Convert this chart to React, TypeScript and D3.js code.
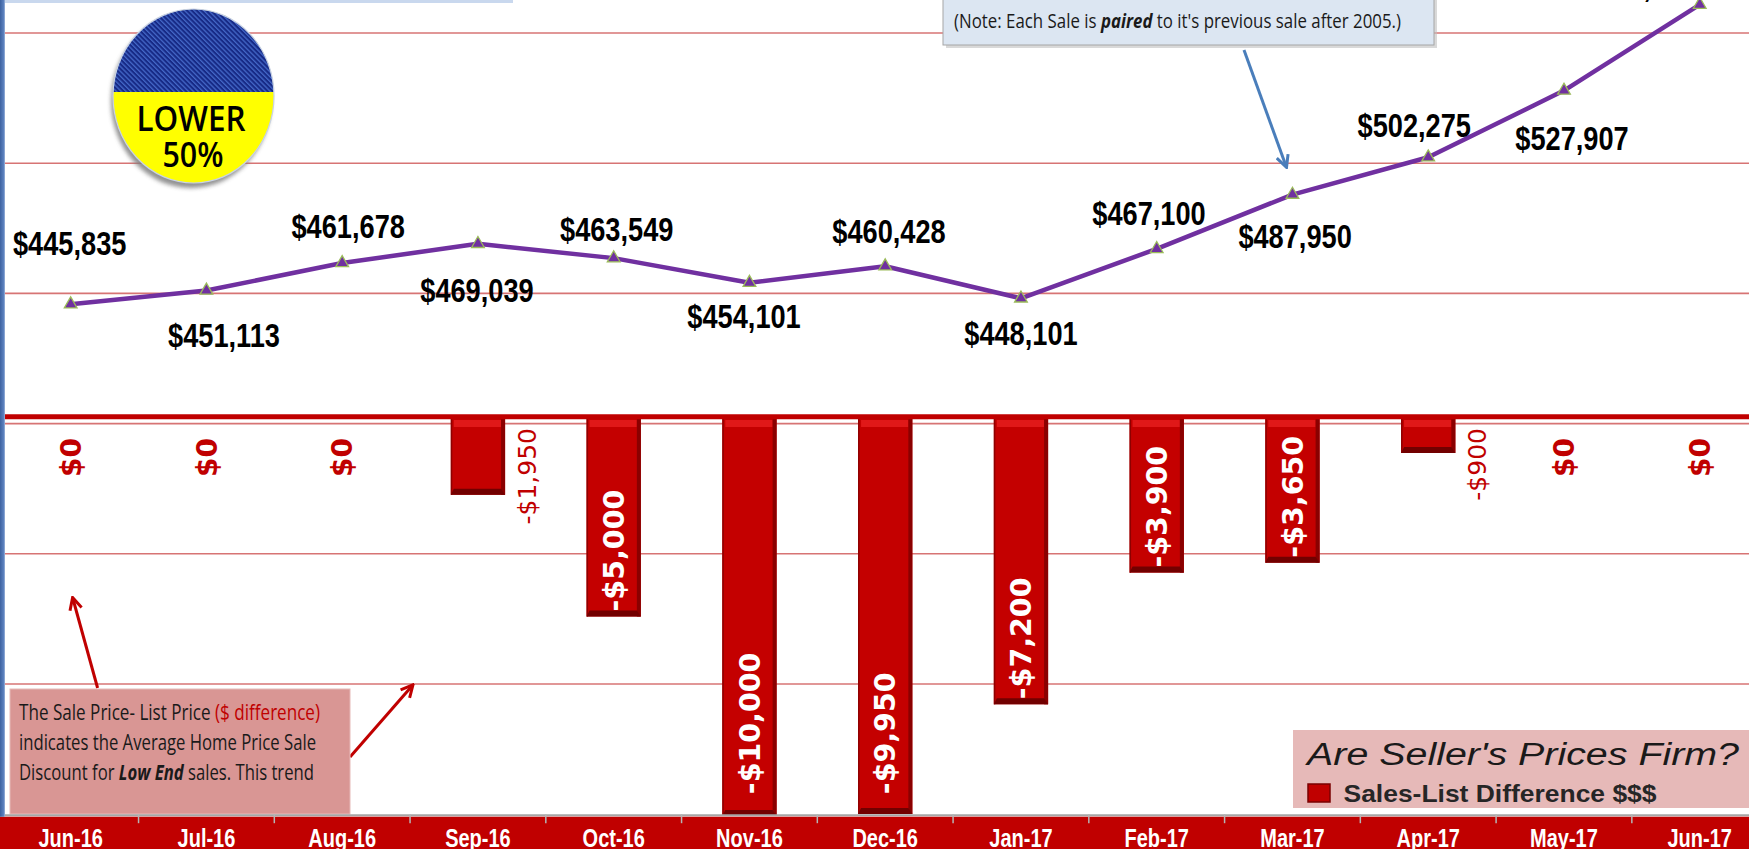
import React from 'react';
import * as d3 from 'd3';

// ---------------- data ----------------
const months = ['Jun-16', 'Jul-16', 'Aug-16', 'Sep-16', 'Oct-16', 'Nov-16', 'Dec-16', 'Jan-17', 'Feb-17', 'Mar-17', 'Apr-17', 'May-17', 'Jun-17'];
const avgSalePrice = [445835, 451113, 461678, 469039, 463549, 454101, 460428, 448101, 467100, 487950, 502275, 527907, 560900];
const salesListDiff = [0, 0, 0, -1950, -5000, -10000, -9950, -7200, -3900, -3650, -900, 0, 0];
const priceTicks = [250000, 300000, 350000, 400000, 450000, 500000, 550000];
const diffDomain = [-10000, 0];
const legendTitle = "Are Seller's Prices Firm?";
const legendLabel = 'Sales-List Difference $$$';

// layout: price label offsets relative to each point [dx, dy(baseline)]
const priceLabelOffsets: [number, number][] = [
  [-1, -49], [17.6, 56], [6, -24.6], [-1, 58], [3, -17.3], [-5.4, 45.4], [3.8, -23.1],
  [0, 46.8], [-7.7, -23.7], [2.6, 53.5], [-14, -20.7], [8, 59.4], [-60, -7.6],
];

const W = 1749;
const H = 849;

const fmtMoney = (v: number) => (v < 0 ? '-' : '') + d3.format('$,')(Math.abs(v));

export default function App() {
  const x = d3.scaleBand<string>().domain(months).range([2.8, 1767.6]).paddingInner(0.6).paddingOuter(0.3);
  const bw = x.bandwidth();
  const cx = (m: string) => (x(m) as number) + bw / 2;
  const yPrice = d3.scaleLinear().domain([250000, 550000]).range([814.2, 33]);
  const yDiff = d3.scaleLinear().domain(diffDomain).range([816, 417]);
  const y0 = yDiff(0);

  const line = d3.line<number>().x((_, i) => cx(months[i])).y((v) => yPrice(v));
  const tri = d3.symbol().type(d3.symbolTriangle).size(70)() as string;

  const axisTop = yPrice(250000);
  const bandTop = axisTop + 2.5;

  return (
    <svg width={W} height={H} style={{ position: 'absolute', left: 0, top: 0, background: '#fff' }}>
      <defs>
        <pattern id="hatch" width="3.4" height="3.4" patternUnits="userSpaceOnUse" patternTransform="rotate(-45)">
          <rect width="3.4" height="3.4" fill="#172a86" />
          <rect width="1.3" height="3.4" fill="#4468c8" />
        </pattern>
        <clipPath id="topHalf">
          <rect x="100" y="0" width="200" height="92" />
        </clipPath>
        <filter id="blur2" x="-20%" y="-20%" width="140%" height="140%">
          <feGaussianBlur stdDeviation="2" />
        </filter>
        <marker id="arrRed" viewBox="0 0 10 10" refX="8" refY="5" markerWidth="5" markerHeight="5" orient="auto">
          <path d="M1,1 L9,5 L1,9" fill="none" stroke="#c00000" strokeWidth="2" />
        </marker>
        <marker id="arrBlue" viewBox="0 0 10 10" refX="8" refY="5" markerWidth="5" markerHeight="5" orient="auto">
          <path d="M1,1 L9,5 L1,9" fill="none" stroke="#4a7ebb" strokeWidth="2" />
        </marker>
        <linearGradient id="leftBorder" x1="0" x2="1" y1="0" y2="0">
          <stop offset="0" stopColor="#3d62a0" />
          <stop offset="0.7" stopColor="#5b80bd" />
          <stop offset="1" stopColor="#9fb6dc" />
        </linearGradient>
      </defs>

      {/* top-left title box remnant */}
      <rect x={0} y={-6} width={513} height={9} fill="#c9d8ee" />

      {/* gridlines */}
      {priceTicks.filter((t) => t > 250000).map((t) => (
        <line key={t} x1={5} x2={W} y1={yPrice(t)} y2={yPrice(t)} stroke="#d77474" strokeWidth={1.6} />
      ))}

      {/* bars */}
      {salesListDiff.map((v, i) => {
        if (v === 0) return null;
        const bx = x(months[i]) as number;
        const by = yDiff(v);
        const h = by - y0;
        return (
          <g key={'bar' + i}>
            <rect x={bx} y={y0} width={bw} height={h} fill="#c40000" />
            <rect x={bx + 3} y={y0 + 3} width={bw - 7} height={Math.min(7, h - 8)} fill="#e01818" />
            <rect x={bx} y={y0} width={1.5} height={h} fill="#8e0000" />
            <rect x={bx + bw - 4} y={y0} width={4} height={h} fill="#8a0000" />
            <polygon points={`${bx},${by} ${bx + bw},${by} ${bx + bw - 4},${by - 6} ${bx + 3},${by - 6}`} fill="#720000" />
          </g>
        );
      })}

      {/* zero line */}
      <line x1={5} x2={W} y1={y0 - 0.3} y2={y0 - 0.3} stroke="#c00000" strokeWidth={5} />

      {/* bar labels */}
      {salesListDiff.map((v, i) => {
        const m = months[i];
        const label = fmtMoney(v);
        if (v === 0) {
          return (
            <text key={'bl' + i} transform={`translate(${cx(m)},${y0 + 60}) rotate(-90)`} dy="0.36em"
              fontFamily="'DejaVu Sans', Verdana, sans-serif" fontWeight="bold" fontSize={28} fill="#c00000">{label}</text>
          );
        }
        if (Math.abs(v) < 2500) {
          return (
            <text key={'bl' + i} transform={`translate(${(x(m) as number) + bw + 22},${y0 + 11}) rotate(-90)`} dy="0.36em"
              textAnchor="end" fontFamily="'DejaVu Sans', Verdana, sans-serif" fontSize={25} fill="#c00000">{label}</text>
          );
        }
        const start = Math.min(yDiff(v) - 5, axisTop - 20);
        return (
          <text key={'bl' + i} transform={`translate(${cx(m)},${start}) rotate(-90)`} dy="0.36em"
            fontFamily="'DejaVu Sans', Verdana, sans-serif" fontWeight="bold" fontSize={28.5} fill="#ffffff">{label}</text>
        );
      })}

      {/* price line */}
      <path d={line(avgSalePrice) as string} fill="none" stroke="#7030a0" strokeWidth={4.5} strokeLinejoin="round" />
      {avgSalePrice.map((v, i) => (
        <path key={'mk' + i} d={tri} transform={`translate(${cx(months[i])},${yPrice(v)})`} fill="#7030a0" stroke="#9bbb59" strokeWidth={1.3} />
      ))}
      {avgSalePrice.map((v, i) => {
        const [dx, dy] = priceLabelOffsets[i];
        return (
          <text key={'pl' + i} transform={`translate(${cx(months[i]) + dx},${yPrice(v) + dy}) scale(0.8,1)`}
            textAnchor="middle" fontFamily="'Liberation Sans', Arial, sans-serif" fontWeight="bold" fontSize={34} fill="#000">
            {fmtMoney(v)}
          </text>
        );
      })}

      {/* LOWER 50% badge */}
      <ellipse cx={191} cy={101} rx={80} ry={87} fill="#7f7f7f" filter="url(#blur2)" opacity={0.85} />
      <ellipse cx={193.5} cy={96} rx={80.5} ry={87} fill="#ffff00" />
      <ellipse cx={193.5} cy={96} rx={80.5} ry={87} fill="url(#hatch)" clipPath="url(#topHalf)" />
      <ellipse cx={193.5} cy={96} rx={80.5} ry={87} fill="none" stroke="#c8d2e6" strokeWidth={1.2} />
      <text x={191} y={130.5} textAnchor="middle" fontFamily="'Open Sans', sans-serif" fontWeight={600} fontSize={35}
        textLength={109} lengthAdjust="spacingAndGlyphs" fill="#000">LOWER</text>
      <text x={193} y={166.5} textAnchor="middle" fontFamily="'Open Sans', sans-serif" fontWeight={600} fontSize={35}
        textLength={61} lengthAdjust="spacingAndGlyphs" fill="#000">50%</text>

      {/* note box top */}
      <rect x={946} y={-4} width={491} height={52} fill="#bfbfbf" opacity={0.6} />
      <rect x={943} y={-6} width={491} height={51} fill="#dce6f2" stroke="#a6a6a6" strokeWidth={1} />
      <text x={954} y={28} fontFamily="'Open Sans', sans-serif" fontSize={20} fill="#1a1a1a" textLength={447} lengthAdjust="spacingAndGlyphs">
        (Note: Each Sale is <tspan fontWeight="bold" fontStyle="italic">paired</tspan> to it's previous sale after 2005.)
      </text>
      <line x1={1244} y1={50} x2={1286} y2={166} stroke="#4a7ebb" strokeWidth={3} markerEnd="url(#arrBlue)" />

      {/* bottom-left annotation */}
      <line x1={97.6} y1={688} x2={73} y2={599} stroke="#c00000" strokeWidth={3} markerEnd="url(#arrRed)" />
      <line x1={350} y1={757} x2={412} y2={686} stroke="#c00000" strokeWidth={3} markerEnd="url(#arrRed)" />
      <rect x={10} y={689} width={340} height={125} fill="#d99694" stroke="#e6b9b8" strokeWidth={1} />
      <text x={19} y={720} fontFamily="'Open Sans', sans-serif" fontSize={22} fill="#1a1a1a" textLength={301} lengthAdjust="spacingAndGlyphs">
        The  Sale Price- List Price <tspan fill="#c00000">($ difference)</tspan>
      </text>
      <text x={19} y={750} fontFamily="'Open Sans', sans-serif" fontSize={22} fill="#1a1a1a" textLength={297} lengthAdjust="spacingAndGlyphs">
        indicates the Average Home Price Sale
      </text>
      <text x={19} y={780} fontFamily="'Open Sans', sans-serif" fontSize={22} fill="#1a1a1a" textLength={295} lengthAdjust="spacingAndGlyphs">
        Discount for <tspan fontWeight="bold" fontStyle="italic">Low End</tspan> sales. This trend
      </text>

      {/* legend */}
      <rect x={1293} y={730} width={470} height={78} fill="#e6b9b8" />
      <text x={1307} y={765} fontFamily="'Liberation Sans', Arial, sans-serif" fontStyle="italic" fontSize={31} fill="#1a1a1a"
        textLength={432} lengthAdjust="spacingAndGlyphs">{legendTitle}</text>
      <rect x={1308} y={784} width={22} height={18} fill="#c00000" stroke="#7a0000" strokeWidth={1.5} />
      <text x={1343.5} y={802} fontFamily="'Liberation Sans', Arial, sans-serif" fontWeight="bold" fontSize={24} fill="#262626"
        textLength={313} lengthAdjust="spacingAndGlyphs">{legendLabel}</text>

      {/* x axis band */}
      <line x1={0} x2={W} y1={axisTop + 1} y2={axisTop + 1} stroke="#a6a6a6" strokeWidth={2} />
      <rect x={0} y={bandTop} width={W} height={H - bandTop} fill="#c00000" />
      {months.slice(1).map((m) => (
        <line key={'t' + m} x1={(x(m) as number) - (x.step() - bw) / 2} x2={(x(m) as number) - (x.step() - bw) / 2}
          y1={axisTop} y2={axisTop + 9} stroke="#b5b5b5" strokeWidth={1.5} />
      ))}
      {months.map((m) => (
        <text key={'xl' + m} transform={`translate(${cx(m)},846.5) scale(0.8,1)`} textAnchor="middle"
          fontFamily="'Liberation Sans', Arial, sans-serif" fontWeight="bold" fontSize={25} fill="#ffffff">{m}</text>
      ))}

      {/* left border */}
      <rect x={0} y={0} width={5} height={bandTop} fill="url(#leftBorder)" />
    </svg>
  );
}
